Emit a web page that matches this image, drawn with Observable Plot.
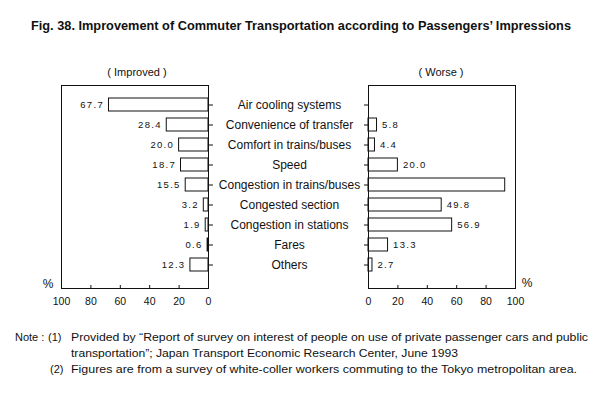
<!DOCTYPE html>
<html><head><meta charset="utf-8">
<script src="https://cdn.jsdelivr.net/npm/d3@7"></script>
<script src="https://cdn.jsdelivr.net/npm/@observablehq/plot@0.6"></script>
<style>
body{margin:0;background:#fff;}
#c{position:relative;width:600px;height:395px;overflow:hidden;font-family:"Liberation Sans",Arial,sans-serif;color:#111;background:#fff;}
.t{position:absolute;white-space:nowrap;line-height:1;}
.p{position:absolute;}
.val text{letter-spacing:1.3px;}
</style></head><body><div id="c"></div>
<script>
const categories = ["Air cooling systems","Convenience of transfer","Comfort in trains/buses","Speed","Congestion in trains/buses","Congested section","Congestion in stations","Fares","Others"];
const improved = [67.7,28.4,20.0,18.7,15.5,3.2,1.9,0.6,12.3];
const worse = [null,5.8,4.4,20.0,93,49.8,56.9,13.3,2.7];
const worseLabelShown = [false,true,true,true,false,true,true,true,true];
const xTicks = [0,20,40,60,80,100];

const c = document.getElementById("c");
const rows = categories.map((cat,i)=>({cat, imp: improved[i], wor: worse[i], show: worseLabelShown[i]}));
const yOpts = {domain: categories, paddingInner:0.358, paddingOuter:0.66, align:0.44};
const baseStyle = {background:"transparent", fontFamily:"Liberation Sans, Arial, sans-serif", fontSize:"10.5px", color:"#111", overflow:"visible"};
const valFont = {fontFamily:"Liberation Sans, Arial, sans-serif", fontSize:9.5, className:"val"};
const frameH = 245 - 15 - 27;

const left = Plot.plot({
  width: 380, height: 245, marginLeft: 61, marginRight: 172, marginTop: 15, marginBottom: 27,
  style: baseStyle,
  x: {domain:[0,100], reverse:true, label:null},
  y: yOpts,
  marks: [
    Plot.barX(rows, {x1: 0, x2: "imp", y: "cat", fill: "white", stroke: "#111", strokeWidth: 1}),
    Plot.frame({stroke:"#111"}),
    Plot.ruleX(xTicks, {x: d => d, insetTop: frameH - 3, stroke: "#111"}),
    Plot.axisX({ticks: xTicks, tickSize: 0, tickPadding: 9, label: null}),
    Plot.axisY({anchor: "right", tickSize: 4, tickFormat: () => "", label: null}),
    Plot.text(rows, {x: "imp", y: "cat", text: d => d.imp.toFixed(1), dx: -5, textAnchor: "end", ...valFont}),
    Plot.text(rows, {y: "cat", text: "cat", frameAnchor: "right", dx: 81, textAnchor: "middle", fontSize: 12})
  ]
});
left.classList.add("p"); left.style.left = "0px"; left.style.top = "70px";
c.appendChild(left);

const right = Plot.plot({
  width: 300, height: 245, marginLeft: 68, marginRight: 85, marginTop: 15, marginBottom: 27,
  style: baseStyle,
  x: {domain:[0,100], label:null},
  y: yOpts,
  marks: [
    Plot.barX(rows.filter(d => d.wor != null), {x1: 0, x2: "wor", y: "cat", fill: "white", stroke: "#111", strokeWidth: 1}),
    Plot.frame({stroke:"#111"}),
    Plot.ruleX(xTicks, {x: d => d, insetTop: frameH - 3, stroke: "#111"}),
    Plot.axisX({ticks: xTicks, tickSize: 0, tickPadding: 9, label: null}),
    Plot.axisY({anchor: "left", tickSize: 4, tickFormat: () => "", label: null}),
    Plot.text(rows.filter(d => d.show), {x: "wor", y: "cat", text: d => d.wor.toFixed(1), dx: 5, textAnchor: "start", ...valFont})
  ]
});
right.classList.add("p"); right.style.left = "300px"; right.style.top = "70px";
c.appendChild(right);

function place(txt, {x, y, size=11, weight="normal", width=null, anchor="start"}) {
  const el = document.createElement("div");
  el.className = "t"; el.textContent = txt;
  el.style.fontSize = size + "px"; el.style.fontWeight = weight;
  c.appendChild(el);
  const r = el.getBoundingClientRect();
  const sx = width ? width / r.width : 1;
  el.style.transformOrigin = "0 0";
  el.style.transform = `scaleX(${sx})`;
  const w = r.width * sx;
  el.style.left = (anchor === "middle" ? x - w/2 : x) + "px";
  el.style.top = (y - r.height/2) + "px";
  return el;
}

place("Fig. 38. Improvement of Commuter Transportation according to Passengers’ Impressions", {x: 31, y: 26, size: 13.5, weight: "bold", width: 540});
place("( Improved )", {x: 137, y: 72, size: 11, anchor: "middle"});
place("( Worse )", {x: 441, y: 72, size: 11, anchor: "middle"});
place("%", {x: 48, y: 284, size: 12, anchor: "middle"});
place("%", {x: 527, y: 283, size: 12, anchor: "middle"});
place("Note :", {x: 15, y: 337, size: 11});
place("(1)", {x: 48, y: 337, size: 11});
place("Provided by “Report of survey on interest of people on use of private passenger cars and public", {x: 71, y: 337, size: 11, width: 517});
place("transportation”; Japan Transport Economic Research Center, June 1993", {x: 71, y: 353, size: 11, width: 387});
place("(2)", {x: 50, y: 369, size: 11});
place("Figures are from a survey of white-coller workers commuting to the Tokyo metropolitan area.", {x: 71, y: 369, size: 11, width: 506});
</script></body></html>
